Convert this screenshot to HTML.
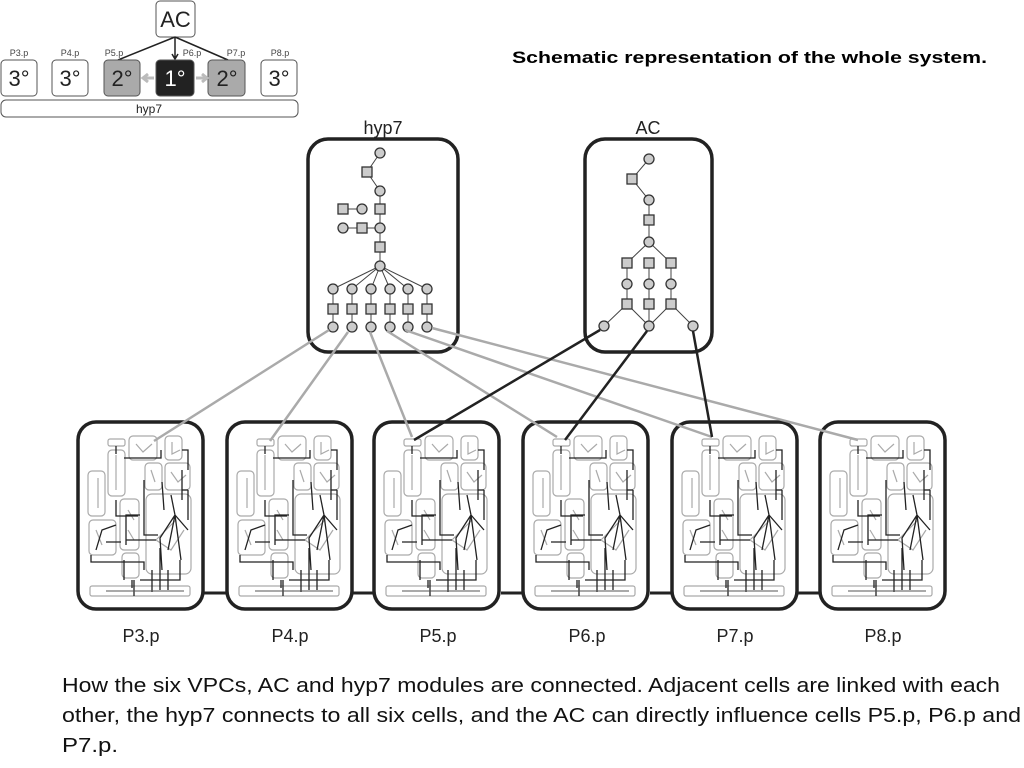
<!DOCTYPE html>
<html><head><meta charset="utf-8"><style>
body{margin:0;width:1024px;height:768px;background:#fff;overflow:hidden;font-family:"Liberation Sans",sans-serif;position:relative}
</style></head><body>
<svg width="1024" height="768" style="position:absolute;left:0;top:0" font-family="Liberation Sans, sans-serif">
<defs>
<g id="cell">
<rect x="2" y="2" width="125" height="187" rx="18" fill="#fff" stroke="#222" stroke-width="3.5"/>
<g fill="none" stroke="#aaa" stroke-width="1.2">
<rect x="32" y="19" width="17" height="7" rx="2"/>
<rect x="32" y="30" width="17" height="46" rx="4"/>
<rect x="53" y="16" width="28" height="24" rx="4"/>
<rect x="89" y="16" width="17" height="24" rx="4"/>
<rect x="69" y="43" width="17" height="27" rx="4"/>
<rect x="89" y="43" width="25" height="27" rx="4"/>
<rect x="12" y="51" width="17" height="45" rx="4"/>
<rect x="44" y="79" width="19" height="51" rx="4"/>
<rect x="70" y="74" width="45" height="80" rx="6"/>
<rect x="13" y="100" width="27" height="35" rx="4"/>
<rect x="46" y="133" width="17" height="25" rx="4"/>
<rect x="14" y="166" width="100" height="10" rx="2"/>
<path d="M40 35 L40 70 M22 58 L22 88 M60 24 L67 32 L76 24 M96 22 L96 34 L104 30 M75 50 L79 62 M95 52 L102 62 L110 55 M52 90 L58 100 M52 110 L58 120 M20 110 L26 125 M100 100 L80 120 L95 130 L108 110"/>
</g>
<g fill="none" stroke="#222" stroke-width="1.3">
<path d="M40 26 L40 34 M48 38 L85 38 L85 30 M106 30 L112 30 L112 50 M106 50 L106 80 M68 60 L68 115 L82 115 M86 62 L88 90 M64 95 L50 95 L50 125 M50 120 L80 120 M40 105 L26 110 L20 130 M15 135 L15 142 L68 142 L68 150 M99 95 L84 118 L86 150 M99 95 L92 130 M99 95 L112 110 M99 95 L105 140 M99 95 L95 75 M30 122 L45 122 M48 140 L48 160 M56 160 L56 168 M84 128 L84 170 M76 150 L76 172 M92 150 L92 170 M104 140 L104 160 L64 160 M58 160 L58 176 M40 80 L40 96 L62 96 M112 70 L112 100 M106 70 L112 70"/>
<path d="M30 171 L108 171" stroke="#555" stroke-width="1"/>
</g>
</g>
<g id="nc"><circle r="5" fill="#ccc" stroke="#333" stroke-width="1.3"/></g>
<g id="ns"><rect x="-5" y="-5" width="10" height="10" fill="#ccc" stroke="#333" stroke-width="1.3"/></g>
</defs>

<rect x="156" y="1" width="39" height="36" rx="4" fill="#fff" stroke="#555"/>
<text x="175.5" y="27" font-size="22" text-anchor="middle" fill="#222">AC</text>
<g stroke="#222" stroke-width="1.5" fill="none"><path d="M175 37 L175 58 M172 54 L175 59 L178 54"/><path d="M175 37 L118 60 M175 37 L228 60"/></g>
<g font-size="9" fill="#444" text-anchor="middle"><text x="19" y="56">P3.p</text><text x="70" y="56">P4.p</text><text x="114" y="56">P5.p</text><text x="192" y="56">P6.p</text><text x="236" y="56">P7.p</text><text x="280" y="56">P8.p</text></g>
<g stroke="#555" stroke-width="1">
<rect x="1" y="60" width="36" height="36" rx="4" fill="#fff"/>
<rect x="52" y="60" width="36" height="36" rx="4" fill="#fff"/>
<rect x="104" y="60" width="36" height="36" rx="4" fill="#aaa"/>
<rect x="156" y="60" width="38" height="36" rx="4" fill="#222"/>
<rect x="208" y="60" width="37" height="36" rx="4" fill="#aaa"/>
<rect x="261" y="60" width="36" height="36" rx="4" fill="#fff"/>
<rect x="1" y="100" width="297" height="17" rx="5" fill="#fff"/>
</g>
<g stroke="#bbb" stroke-width="3" fill="none"><path d="M154 78 L144 78 M148 74 L143 78 L148 82 M196 78 L206 78 M202 74 L207 78 L202 82"/></g>
<g font-size="22" text-anchor="middle" fill="#222"><text x="19" y="86">3°</text><text x="70" y="86">3°</text><text x="122" y="86">2°</text><text x="175" y="86" fill="#fff">1°</text><text x="227" y="86">2°</text><text x="279" y="86">3°</text></g>
<text x="149" y="113" font-size="12" text-anchor="middle" fill="#222">hyp7</text>

<text x="512" y="63" font-size="17" font-weight="bold" fill="#000" textLength="475" lengthAdjust="spacingAndGlyphs">Schematic representation of the whole system.</text>

<use href="#cell" x="76" y="420"/>
<use href="#cell" x="225" y="420"/>
<use href="#cell" x="372" y="420"/>
<use href="#cell" x="521" y="420"/>
<use href="#cell" x="670" y="420"/>
<use href="#cell" x="818" y="420"/>
<g stroke="#222" stroke-width="3"><path d="M204 593 L228 593 M352 593 L375 593 M501 593 L524 593 M650 593 L673 593 M798 593 L821 593"/></g>
<g font-size="18" text-anchor="middle" fill="#222"><text x="141" y="642">P3.p</text><text x="290" y="642">P4.p</text><text x="438" y="642">P5.p</text><text x="587" y="642">P6.p</text><text x="735" y="642">P7.p</text><text x="883" y="642">P8.p</text></g>

<rect x="308" y="139" width="150" height="213" rx="20" fill="#fff" stroke="#222" stroke-width="3.5"/>
<rect x="585" y="139" width="127" height="213" rx="20" fill="#fff" stroke="#222" stroke-width="3.5"/>
<text x="383" y="134" font-size="18" text-anchor="middle" fill="#222">hyp7</text>
<text x="648" y="134" font-size="18" text-anchor="middle" fill="#222">AC</text>

<g stroke="#444" stroke-width="1" fill="none">
<path d="M380 153 L367 172 L380 191 L380 266 M343 209 L362 209 M343 228 L380 228"/>
<path d="M380 266 L333 289 M380 266 L352 289 M380 266 L371 289 M380 266 L390 289 M380 266 L408 289 M380 266 L427 289"/>
<path d="M333 289 V327 M352 289 V327 M371 289 V327 M390 289 V327 M408 289 V327 M427 289 V327"/>
<path d="M649 159 L632 179 L649 200 L649 242 L627 263 M649 242 L671 263 M627 263 V304 M649 263 V304 M671 263 V304 M627 304 L604 326 M627 304 L649 326 M649 304 V326 M671 304 L649 326 M671 304 L693 326"/>
</g>
<use href="#nc" x="380" y="153"/><use href="#ns" x="367" y="172"/><use href="#nc" x="380" y="191"/>
<use href="#ns" x="343" y="209"/><use href="#nc" x="362" y="209"/><use href="#ns" x="380" y="209"/>
<use href="#nc" x="343" y="228"/><use href="#ns" x="362" y="228"/><use href="#nc" x="380" y="228"/>
<use href="#ns" x="380" y="247"/><use href="#nc" x="380" y="266"/>
<use href="#nc" x="333" y="289"/><use href="#nc" x="352" y="289"/><use href="#nc" x="371" y="289"/><use href="#nc" x="390" y="289"/><use href="#nc" x="408" y="289"/><use href="#nc" x="427" y="289"/>
<use href="#ns" x="333" y="309"/><use href="#ns" x="352" y="309"/><use href="#ns" x="371" y="309"/><use href="#ns" x="390" y="309"/><use href="#ns" x="408" y="309"/><use href="#ns" x="427" y="309"/>
<use href="#nc" x="333" y="327"/><use href="#nc" x="352" y="327"/><use href="#nc" x="371" y="327"/><use href="#nc" x="390" y="327"/><use href="#nc" x="408" y="327"/><use href="#nc" x="427" y="327"/>
<use href="#nc" x="649" y="159"/><use href="#ns" x="632" y="179"/><use href="#nc" x="649" y="200"/><use href="#ns" x="649" y="220"/><use href="#nc" x="649" y="242"/>
<use href="#ns" x="627" y="263"/><use href="#ns" x="649" y="263"/><use href="#ns" x="671" y="263"/>
<use href="#nc" x="627" y="284"/><use href="#nc" x="649" y="284"/><use href="#nc" x="671" y="284"/>
<use href="#ns" x="627" y="304"/><use href="#ns" x="649" y="304"/><use href="#ns" x="671" y="304"/>
<use href="#nc" x="604" y="326"/><use href="#nc" x="649" y="326"/><use href="#nc" x="693" y="326"/>

<g stroke="#aaa" stroke-width="2.5" fill="none">
<path d="M329 330 L154 441 M348 332 L270 441 M370 332 L412 437 M387 331 L557 437 M405 330 L712 437 M432 328 L858 440"/>
</g>
<g stroke="#222" stroke-width="2.5" fill="none">
<path d="M600 330 L414 440 M647 331 L565 440 M693 331 L712 437"/>
</g>

<g font-size="20" fill="#111">
<text x="62" y="692" textLength="938" lengthAdjust="spacingAndGlyphs">How the six VPCs, AC and hyp7 modules are connected. Adjacent cells are linked with each</text>
<text x="62" y="722" textLength="959" lengthAdjust="spacingAndGlyphs">other, the hyp7 connects to all six cells, and the AC can directly influence cells P5.p, P6.p and</text>
<text x="62" y="752" textLength="56" lengthAdjust="spacingAndGlyphs">P7.p.</text>
</g>
</svg>
</body></html>
